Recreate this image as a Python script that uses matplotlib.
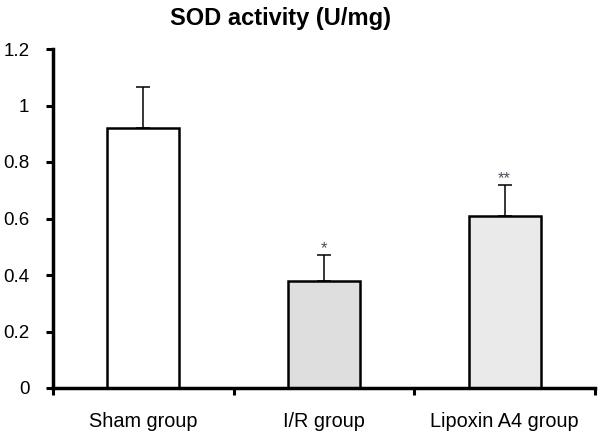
import matplotlib
matplotlib.use("Agg")
import matplotlib.pyplot as plt
import numpy as np

categories = ["Sham group", "I/R group", "Lipoxin A4 group"]
values = [0.92, 0.38, 0.61]
errors = [0.145, 0.09, 0.11]
marks = ["", "*", "**"]
yticks = [0, 0.2, 0.4, 0.6, 0.8, 1.0, 1.2]
ytick_labels = ["0", "0.2", "0.4", "0.6", "0.8", "1", "1.2"]
title = "SOD activity (U/mg)"

plt.rcParams['font.family'] = ['Liberation Sans', 'DejaVu Sans']

fig = plt.figure(figsize=(6.0, 4.38), dpi=100)
ax = fig.add_axes([53/600, 1-388/438, 542/600, 339/438])

x = np.arange(len(categories))
colors = ["white", "#dedede", "#eaeaea"]
ax.bar(x, values, width=0.40, color=colors, edgecolor="black", linewidth=1.8, zorder=2)
ax.errorbar(x, values, yerr=[[0]*3, errors], fmt="none", ecolor="black",
            elinewidth=1.1, capsize=5, capthick=1.1, zorder=1)
for xi, v, e, m in zip(x, values, errors, marks):
    if m:
        ax.text(xi, v + e + 0.022, m, ha="center", va="center", fontsize=12,
                color="#4a4f5a")

ax.set_xlim(-0.5, 2.5)
ax.set_ylim(0, 1.2)
ax.set_yticks(yticks)
ax.set_yticklabels(ytick_labels, fontsize=13.5)
ax.set_xticks([-0.5, 0.5, 1.5, 2.5])
ax.set_xticklabels([])
ax.set_xticks(x, minor=True)
ax.set_xticklabels(categories, minor=True, fontsize=14.3)
ax.tick_params(axis="x", which="minor", length=0, pad=17)
ax.tick_params(axis="x", which="major", direction="out", length=5, width=2.2)
ax.tick_params(axis="y", direction="out", length=5, width=2.2, pad=12)
for s in ["top", "right"]:
    ax.spines[s].set_visible(False)
for s in ["left", "bottom"]:
    ax.spines[s].set_linewidth(2.5)

fig.text(281/600, 1-19/438, title, ha="center", va="center", fontsize=17, fontweight="bold")

fig.savefig("out.png", dpi=100)
